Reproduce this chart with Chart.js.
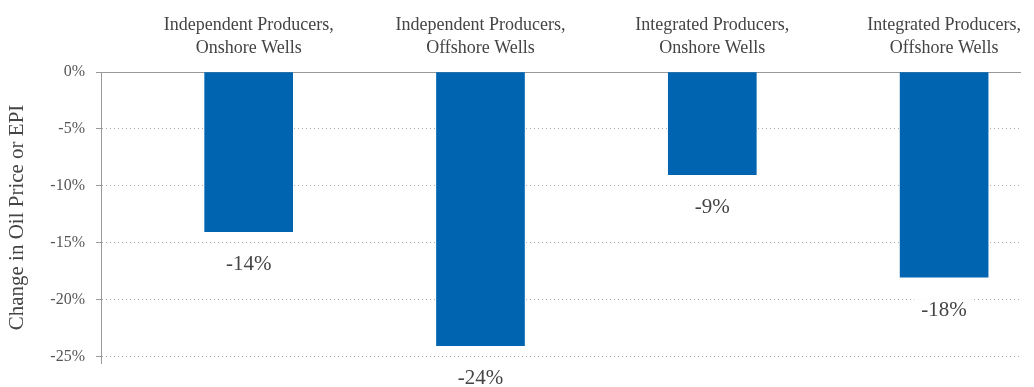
<!DOCTYPE html>
<html>
<head>
<meta charset="utf-8">
<script src="https://cdn.jsdelivr.net/npm/chart.js@4/dist/chart.umd.min.js"></script>
<style>
  html, body { margin: 0; padding: 0; background: #fff; }
  #wrap { width: 1034px; height: 387px; }
</style>
</head>
<body>
<div id="wrap"><canvas id="c" width="1034" height="387"></canvas></div>
<script>
// ---- data ----
const categories = [
  ["Independent Producers,", "Onshore Wells"],
  ["Independent Producers,", "Offshore Wells"],
  ["Integrated Producers,", "Onshore Wells"],
  ["Integrated Producers,", "Offshore Wells"]
];
const values = [-14, -24, -9, -18];
const yTicks = [0, -5, -10, -15, -20, -25];
const yTitle = "Change in Oil Price or EPI";

// ---- styling ----
const FONT = "'Liberation Serif', serif";
const BAR = '#0064B0';

const labelPlugin = {
  id: 'barLabels',
  afterDatasetsDraw(chart) {
    const ctx = chart.ctx;
    const meta = chart.getDatasetMeta(0);
    ctx.save();
    ctx.font = '21px ' + FONT;
    ctx.textAlign = 'center';
    ctx.textBaseline = 'middle';
    meta.data.forEach((el, i) => {
      const txt = values[i] + '%';
      const x = el.x;
      const y = el.y + 33;
      const w = ctx.measureText(txt).width + 14;
      ctx.fillStyle = '#fff';
      ctx.fillRect(x - w / 2, y - 11, w, 22);
      ctx.fillStyle = '#444';
      ctx.fillText(txt, x, y);
    });
    ctx.restore();
  }
};

new Chart(document.getElementById('c'), {
  type: 'bar',
  data: {
    datasets: [{
      data: values.map((v, i) => ({ x: i, y: v })),
      backgroundColor: BAR,
      borderWidth: 0,
      barThickness: 88
    }]
  },
  options: {
    responsive: false,
    animation: false,
    layout: { padding: { left: 0, right: 11, top: 0, bottom: 24 } },
    plugins: { legend: { display: false }, tooltip: { enabled: false } },
    scales: {
      x: {
        type: 'linear',
        position: 'top',
        offset: false,
        min: -0.637,
        max: 3.331,
        afterBuildTicks: s => { s.ticks = categories.map((c, i) => ({ value: i })); },
        afterFit: s => { s.height = 72; },
        grid: { display: false, drawTicks: false, offset: false },
        border: { display: true, color: '#999', width: 1 },
        ticks: {
          padding: 12,
          color: '#444',
          font: { family: FONT, size: 18, lineHeight: 1.28 },
          maxRotation: 0,
          autoSkip: false,
          callback: v => categories[v] || ''
        }
      },
      y: {
        min: -25.53,
        max: 0,
        afterBuildTicks: s => { s.ticks = yTicks.map(v => ({ value: v })); },
        afterFit: s => { s.width = 101; },
        grid: {
          color: '#aaa',
          lineWidth: 1,
          tickLength: 5,
          tickColor: '#999',
          tickBorderDash: []
        },
        border: {
          display: true,
          color: '#999',
          width: 1,
          dash: c => (c.type === 'tick' && c.tick && c.tick.value !== 0) ? [1, 3] : []
        },
        ticks: {
          padding: 11,
          color: '#555',
          font: { family: FONT, size: 16 },
          callback: v => v + '%'
        },
        title: {
          display: true,
          text: yTitle,
          color: '#444',
          font: { family: FONT, size: 21 },
          padding: { top: 5, bottom: 0 }
        }
      }
    }
  },
  plugins: [labelPlugin]
});
</script>
</body>
</html>
